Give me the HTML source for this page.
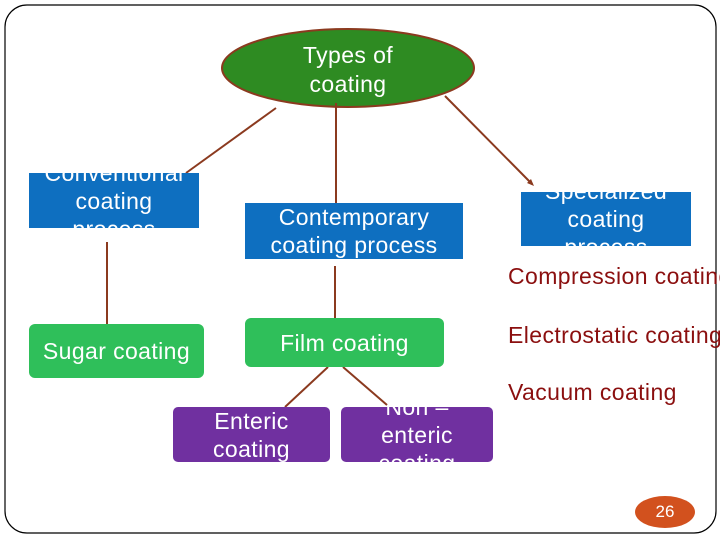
<!DOCTYPE html>
<html><head><style>
body{margin:0;width:720px;height:540px;background:#fff;position:relative;overflow:hidden;font-family:"Liberation Sans",sans-serif}
.b{position:absolute;overflow:hidden;display:flex;align-items:center;justify-content:center;text-align:center;color:#fff;font-size:23px;letter-spacing:0.4px;line-height:28px}
.r{position:absolute;color:#8b0f0f;font-size:23px;letter-spacing:0.4px;white-space:nowrap;line-height:24px}
</style></head><body>
<svg width="720" height="540" style="position:absolute;left:0;top:0">
<rect x="5" y="5" width="711" height="528" rx="22" fill="none" stroke="#000" stroke-width="1.2"/>
<ellipse cx="348" cy="68" rx="126" ry="39" fill="#2e8b22" stroke="#8b3a1f" stroke-width="2"/>
<g stroke="#8b3a1f" stroke-width="2" fill="none">
<line x1="276" y1="108" x2="186" y2="173"/>
<line x1="336" y1="103" x2="336" y2="203"/>
<line x1="445" y1="96" x2="532" y2="184"/>
<line x1="107" y1="242" x2="107" y2="324"/>
<line x1="335" y1="266" x2="335" y2="318"/>
<line x1="328" y1="367" x2="285" y2="407"/>
<line x1="343" y1="367" x2="387" y2="405"/>
</g>
<polygon points="534,186 527,183 531,179" fill="#8b3a1f"/>
<ellipse cx="665" cy="512" rx="30" ry="16" fill="#d2511e"/>
</svg>
<div style="position:absolute;left:222px;top:41px;width:252px;text-align:center;color:#fff;font-size:23px;letter-spacing:0.4px;line-height:29px">Types of<br>coating</div>
<div class="b" style="left:29px;top:173px;width:170px;height:55px;background:#0e6fc0">Conventional<br>coating<br>process</div>
<div class="b" style="left:245px;top:203px;width:218px;height:56px;background:#0e6fc0">Contemporary<br>coating process</div>
<div class="b" style="left:521px;top:192px;width:170px;height:54px;background:#0e6fc0">Specialized<br>coating<br>process</div>
<div class="b" style="left:29px;top:324px;width:175px;height:54px;background:#2fbf5a;border-radius:6px">Sugar coating</div>
<div class="b" style="left:245px;top:318px;width:199px;height:49px;background:#2fbf5a;border-radius:6px">Film coating</div>
<div class="b" style="left:173px;top:407px;width:157px;height:55px;background:#7030a0;border-radius:5px">Enteric<br>coating</div>
<div class="b" style="left:341px;top:407px;width:152px;height:55px;background:#7030a0;border-radius:5px">Non –<br>enteric<br>coating</div>
<div class="r" style="left:508px;top:264px">Compression coating</div>
<div class="r" style="left:508px;top:323px">Electrostatic coating</div>
<div class="r" style="left:508px;top:380px">Vacuum coating</div>
<div style="position:absolute;left:635px;top:503px;width:60px;text-align:center;color:#fff;font-size:17px;line-height:18px">26</div>
</body></html>
